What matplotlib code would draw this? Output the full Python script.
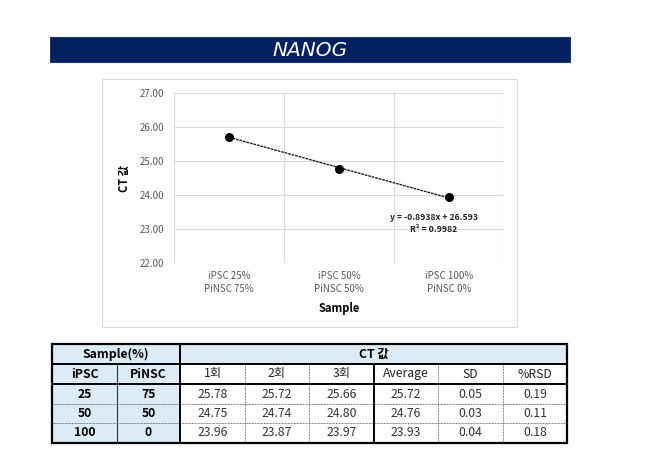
import matplotlib
matplotlib.use('Agg')
import matplotlib.pyplot as plt
from matplotlib.patches import Rectangle
import numpy as np

plt.rcParams['font.family'] = ['Noto Sans CJK KR', 'DejaVu Sans']

# data
samples = ['iPSC 25%\nPiNSC 75%', 'iPSC 50%\nPiNSC 50%', 'iPSC 100%\nPiNSC 0%']
ct_avg = [25.72, 24.76, 23.93]
slope = -0.8938
intercept = 26.593
r2 = 0.9982

ipsc = ['25', '50', '100']
pinsc = ['75', '50', '0']
run1 = ['25.78', '24.75', '23.96']
run2 = ['25.72', '24.74', '23.87']
run3 = ['25.66', '24.80', '23.97']
avg_txt = ['25.72', '24.76', '23.93']
sd_txt = ['0.05', '0.03', '0.04']
rsd_txt = ['0.19', '0.11', '0.18']
sub_headers = ['1회', '2회', '3회', 'Average', 'SD', '%RSD']

W, H = 647, 451
fig = plt.figure(figsize=(W / 100, H / 100), dpi=100)

# overlay axes in pixel coordinates for banner, frame and table
bg = fig.add_axes([0, 0, 1, 1])
bg.set_xlim(0, W)
bg.set_ylim(H, 0)
bg.axis('off')

navy = '#002060'
lightblue = '#DDEBF7'

# title banner
bg.add_patch(Rectangle((50, 37), 520, 25, facecolor=navy, edgecolor='#1f3864', lw=0.8))
bg.text(310, 50, 'NANOG', color='white', fontsize=14.5, style='italic',
        ha='center', va='center', family=['DejaVu Sans'])

# chart frame
bg.add_patch(Rectangle((102, 79), 415, 248, facecolor='none', edgecolor='#d9d9d9', lw=0.8))

# chart
ax = fig.add_axes([174 / W, (H - 263) / H, (504 - 174) / W, (263 - 93) / H])
x = np.arange(1, len(samples) + 1)
ax.set_xlim(0.5, len(samples) + 0.5)
ax.set_ylim(22, 27)
ax.set_yticks(np.arange(22, 27.01, 1))
ax.set_yticklabels([f'{v:.2f}' for v in np.arange(22, 27.01, 1)])
ax.set_xticks(x)
ax.set_xticklabels(samples, linespacing=1.3)
ax.tick_params(length=0, labelsize=7, labelcolor='#595959', pad=7)
ax.tick_params(axis='x', pad=6)
for v in np.arange(22, 27.01, 1):
    ax.axhline(v, color='#d9d9d9', lw=0.8, zorder=0)
for b in np.arange(0.5, len(samples) + 0.6, 1):
    ax.axvline(b, color='#d9d9d9', lw=0.8, zorder=0)
for s in ax.spines.values():
    s.set_visible(False)

xt = np.array([1, len(samples)])
ax.plot(xt, slope * xt + intercept, color='#222222', lw=1.0, linestyle=(0, (2, 0.6)), zorder=2)
ax.plot(x, ct_avg, 'o', color='black', markersize=5.5, zorder=3)
ax.text(2.86, 23.16, f'y = {slope}x + {intercept}\nR² = {r2}', fontsize=6.2,
        fontweight='bold', ha='center', va='center', linespacing=1.5, color='#222222')
ax.set_ylabel('CT 값', fontsize=8, fontweight='bold', labelpad=6)
ax.set_xlabel('Sample', fontsize=8, fontweight='bold', labelpad=6)

# table
cols = [52, 117, 180, 245, 309, 374, 438, 503, 567]
rows = [344, 364, 384, 404, 423, 443]

# fills
bg.add_patch(Rectangle((cols[0], rows[0]), cols[-1] - cols[0], rows[1] - rows[0],
                       facecolor=lightblue, edgecolor='none'))
bg.add_patch(Rectangle((cols[0], rows[1]), cols[2] - cols[0], rows[-1] - rows[1],
                       facecolor=lightblue, edgecolor='none'))

thin = dict(color='#555555', lw=0.6, linestyle=(0, (1, 0.8)))
thick = dict(color='black', lw=1.4)
# thin internal lines
for c in [cols[3], cols[4], cols[6], cols[7]]:
    bg.plot([c, c], [rows[1], rows[-1]], **thin)
bg.plot([cols[1], cols[1]], [rows[1], rows[-1]], color='#333333', lw=0.8)
for r in [rows[3], rows[4]]:
    bg.plot([cols[0], cols[-1]], [r, r], **thin)
# thick lines
for r in [rows[1], rows[2]]:
    bg.plot([cols[0], cols[-1]], [r, r], **thick)
bg.plot([cols[2], cols[2]], [rows[0], rows[-1]], **thick)
bg.plot([cols[5], cols[5]], [rows[1], rows[-1]], **thick)
bg.add_patch(Rectangle((cols[0], rows[0]), cols[-1] - cols[0], rows[-1] - rows[0],
                       facecolor='none', edgecolor='black', lw=1.6))

def mid(a, b):
    return (a + b) / 2

fs = 8.8
bg.text(mid(cols[0], cols[2]), mid(rows[0], rows[1]), 'Sample(%)', fontsize=fs,
        fontweight='bold', ha='center', va='center')
bg.text(mid(cols[2], cols[-1]), mid(rows[0], rows[1]), 'CT 값', fontsize=fs,
        fontweight='bold', ha='center', va='center')
bg.text(mid(cols[0], cols[1]), mid(rows[1], rows[2]), 'iPSC', fontsize=fs,
        fontweight='bold', ha='center', va='center')
bg.text(mid(cols[1], cols[2]), mid(rows[1], rows[2]), 'PiNSC', fontsize=fs,
        fontweight='bold', ha='center', va='center')
for j, h in enumerate(sub_headers):
    bg.text(mid(cols[j + 2], cols[j + 3]), mid(rows[1], rows[2]), h, fontsize=fs,
            ha='center', va='center', color='#222222')

body = [ipsc, pinsc, run1, run2, run3, avg_txt, sd_txt, rsd_txt]
for j, col in enumerate(body):
    for i, val in enumerate(col):
        bg.text(mid(cols[j], cols[j + 1]), mid(rows[i + 2], rows[i + 3]), val,
                fontsize=fs, ha='center', va='center',
                fontweight='bold' if j < 2 else 'normal',
                color='black' if j < 2 else '#333333')

fig.savefig('out.png', dpi=100)
